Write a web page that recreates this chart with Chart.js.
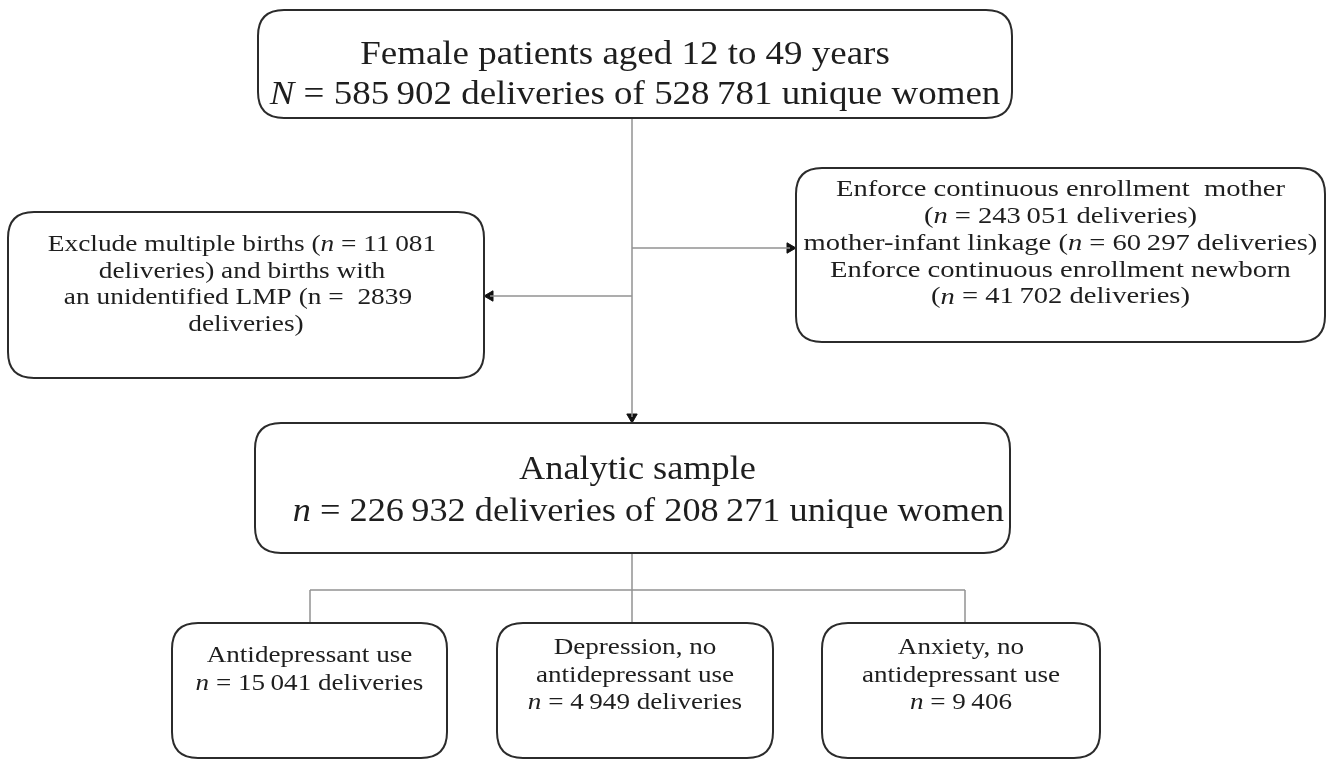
<!DOCTYPE html>
<html>
<head>
<meta charset="utf-8">
<script src="https://cdn.jsdelivr.net/npm/chart.js@4"></script>
<style>
  html, body { margin: 0; padding: 0; background: #fff; }
  #flow { display: block; }
</style>
</head>
<body>
<canvas id="flow" width="1329" height="763"></canvas>
<script>
// counts
const cohortCounts = [585902, 528781];          // deliveries, unique women
const multipleBirths = 11081;
const unidentifiedLmp = 2839;
const enrollmentCounts = [243051, 60297, 41702]; // mother, linkage, newborn
const sampleCounts = [226932, 208271];          // deliveries, unique women
const groupNames = [
  ['Antidepressant use'],
  ['Depression, no', 'antidepressant use'],
  ['Anxiety, no', 'antidepressant use']
];
const groupCounts = [15041, 4949, 9406];
const groupUnits = [' deliveries', ' deliveries', ''];

// thin-space thousands separator like the original
function fmt(n) {
  return String(n).replace(/\B(?=(\d{3})+(?!\d))/g, '\u2009');
}

// text of every box, *x* = italic
const cohortText = [
  'Female patients aged 12 to 49 years',
  '*N* = ' + fmt(cohortCounts[0]) + ' deliveries of ' + fmt(cohortCounts[1]) + ' unique women'
];
const excludeText = [
  'Exclude multiple births (*n* = ' + fmt(multipleBirths),
  'deliveries) and births with',
  'an unidentified LMP (n =  ' + unidentifiedLmp,
  'deliveries)'
];
const enrollText = [
  'Enforce continuous enrollment  mother',
  '(*n* = ' + fmt(enrollmentCounts[0]) + ' deliveries)',
  'mother-infant linkage (*n* = ' + fmt(enrollmentCounts[1]) + ' deliveries)',
  'Enforce continuous enrollment newborn',
  '(*n* = ' + fmt(enrollmentCounts[2]) + ' deliveries)'
];
const sampleText = [
  'Analytic sample',
  '*n* = ' + fmt(sampleCounts[0]) + ' deliveries of ' + fmt(sampleCounts[1]) + ' unique women'
];
const groupText = groupNames.map((g, i) => g.concat(['*n* = ' + fmt(groupCounts[i]) + groupUnits[i]]));

// layout, in canvas units (x right, y down); sx = horizontal stretch of the text
const layout = [
  { box: [258, 10, 1012, 118], lines: cohortText, size: 33, sx: 1.12, first: 55, lh: 40, dx: [-10, 0] },
  { box: [8, 212, 484, 378], lines: excludeText, size: 24, sx: 1.14, first: 245, lh: 26.5, dx: [-4, -4, -8, 0] },
  { box: [796, 168, 1325, 342], lines: enrollText, size: 24, sx: 1.19, first: 190, lh: 26.8 },
  { box: [255, 423, 1010, 553], lines: sampleText, size: 33, sx: 1.1, first: 470, lh: 42, dx: [5, 16] },
  { box: [172, 623, 447, 758], lines: groupText[0], size: 24, sx: 1.13, first: 656, lh: 27.5 },
  { box: [497, 623, 773, 758], lines: groupText[1], size: 24, sx: 1.13, first: 648, lh: 27.5 },
  { box: [822, 623, 1100, 758], lines: groupText[2], size: 24, sx: 1.13, first: 648, lh: 27.5 }
];

const connectors = [
  [[632, 118], [632, 417]],
  [[632, 296], [490, 296]],
  [[632, 248], [790, 248]],
  [[632, 553], [632, 590]],
  [[310, 590], [965, 590]],
  [[310, 590], [310, 623]],
  [[632, 590], [632, 623]],
  [[965, 590], [965, 623]]
];
// arrow tips and direction (degrees, 0 = up)
const arrows = [
  { tip: [632, 423], rot: 180 },
  { tip: [484, 296], rot: 270 },
  { tip: [796, 248], rot: 90 }
];
const arrowR = 6;

const lineSets = connectors.map(c => ({
  type: 'line',
  data: c.map(p => ({ x: p[0], y: p[1] })),
  borderColor: '#929292',
  borderWidth: 1.5,
  pointRadius: 0,
  showLine: true,
  fill: false
}));

const arrowSet = {
  type: 'scatter',
  data: arrows.map(a => {
    const r = a.rot * Math.PI / 180;
    return { x: a.tip[0] - Math.sin(r) * arrowR, y: a.tip[1] + Math.cos(r) * arrowR };
  }),
  pointStyle: 'triangle',
  pointRotation: arrows.map(a => a.rot),
  pointRadius: arrowR,
  backgroundColor: '#111',
  borderColor: '#111',
  borderWidth: 1
};

function roundRect(ctx, x0, y0, x1, y1, r) {
  ctx.beginPath();
  ctx.moveTo(x0 + r, y0);
  ctx.lineTo(x1 - r, y0);
  ctx.quadraticCurveTo(x1, y0, x1, y0 + r);
  ctx.lineTo(x1, y1 - r);
  ctx.quadraticCurveTo(x1, y1, x1 - r, y1);
  ctx.lineTo(x0 + r, y1);
  ctx.quadraticCurveTo(x0, y1, x0, y1 - r);
  ctx.lineTo(x0, y0 + r);
  ctx.quadraticCurveTo(x0, y0, x0 + r, y0);
  ctx.closePath();
}

function drawRich(ctx, str, cx, cy, size, sx) {
  const parts = str.split('*');
  const fonts = parts.map((p, i) => (i % 2 ? 'italic ' : '') + size + 'px "Liberation Serif", "Times New Roman", serif');
  let total = 0;
  const widths = parts.map((p, i) => { ctx.font = fonts[i]; const w = ctx.measureText(p).width; total += w; return w; });
  ctx.save();
  ctx.translate(cx, cy);
  ctx.scale(sx, 1);
  let x = -total / 2;
  parts.forEach((p, i) => {
    ctx.font = fonts[i];
    ctx.fillText(p, x, 0);
    x += widths[i];
  });
  ctx.restore();
}

const boxPlugin = {
  id: 'boxes',
  afterDatasetsDraw(chart) {
    const { ctx, scales: { x, y } } = chart;
    ctx.save();
    layout.forEach(b => {
      const x0 = x.getPixelForValue(b.box[0]), x1 = x.getPixelForValue(b.box[2]);
      const y0 = y.getPixelForValue(b.box[1]), y1 = y.getPixelForValue(b.box[3]);
      roundRect(ctx, x0, y0, x1, y1, 26);
      ctx.fillStyle = '#fff';
      ctx.fill();
      ctx.lineWidth = 2;
      ctx.strokeStyle = '#2b2b2b';
      ctx.stroke();
      ctx.fillStyle = '#1e1e1e';
      ctx.textBaseline = 'middle';
      ctx.textAlign = 'left';
      const cx = (x0 + x1) / 2;
      b.lines.forEach((ln, i) => {
        const dx = b.dx ? b.dx[i] : 0;
        drawRich(ctx, ln, cx + dx, y.getPixelForValue(b.first + i * b.lh), b.size, b.sx);
      });
    });
    ctx.restore();
  }
};

new Chart(document.getElementById('flow'), {
  type: 'scatter',
  data: { datasets: lineSets.concat([arrowSet]) },
  options: {
    responsive: false,
    animation: false,
    layout: { padding: 0, autoPadding: false },
    scales: {
      x: { type: 'linear', min: 0, max: 1329, display: false },
      y: { type: 'linear', min: 0, max: 763, reverse: true, display: false }
    },
    plugins: { legend: { display: false }, tooltip: { enabled: false } },
    events: []
  },
  plugins: [boxPlugin]
});
</script>
</body>
</html>
